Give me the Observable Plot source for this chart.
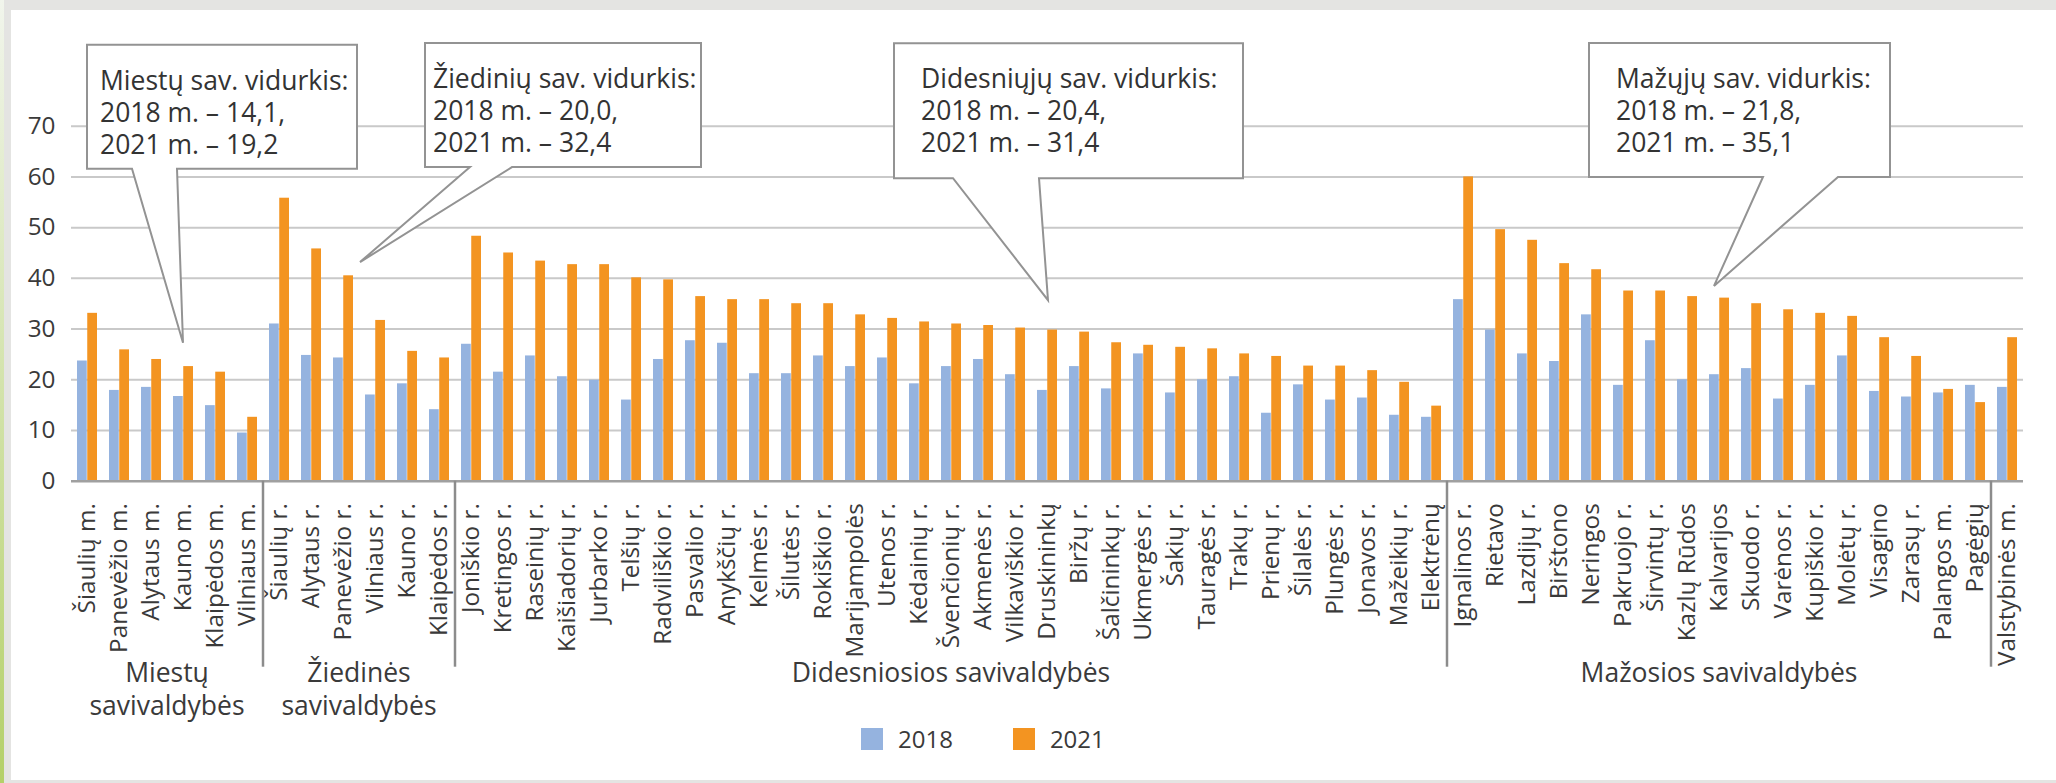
<!DOCTYPE html>
<html><head><meta charset="utf-8">
<script src="https://cdn.jsdelivr.net/npm/d3@7"></script>
<script src="https://cdn.jsdelivr.net/npm/@observablehq/plot@0.6"></script>
<style>
html,body{margin:0;padding:0;background:#fff;}
#frame{position:relative;width:2056px;height:783px;background:#e4e4e2;overflow:hidden;font-family:"Open Sans",sans-serif;color:#3a3a3a;}
#strip{position:absolute;left:0;top:0;width:4px;height:783px;background:linear-gradient(#f1f5ec,#b4d069);}
#panel{position:absolute;left:11px;top:10px;right:0;bottom:3px;background:#fff;}
#chart{position:absolute;left:0;top:0;width:2056px;}
#legend{display:flex;align-items:center;margin-left:861px;margin-top:5px;font-size:24px;height:24px;line-height:24px;}
.sw{width:22px;height:22px;margin-right:15px;}
.lt{margin-right:60px;}
</style></head>
<body><div id="frame"><div id="strip"></div><div id="panel"></div><div id="chart"></div></div>
<script>
// ---- categories ----
const cityNames = ["Šiaulių m.", "Panevėžio m.", "Alytaus m.", "Kauno m.", "Klaipėdos m.", "Vilniaus m."];
const ringNames = ["Šiaulių r.", "Alytaus r.", "Panevėžio r.", "Vilniaus r.", "Kauno r.", "Klaipėdos r."];
const largerNames = ["Joniškio r.", "Kretingos r.", "Raseinių r.", "Kaišiadorių r.", "Jurbarko r.", "Telšių r.", "Radviliškio r.", "Pasvalio r.", "Anykščių r.", "Kelmės r.", "Šilutės r.", "Rokiškio r.", "Marijampolės", "Utenos r.", "Kėdainių r.", "Švenčionių r.", "Akmenės r.", "Vilkaviškio r.", "Druskininkų", "Biržų r.", "Šalčininkų r.", "Ukmergės r.", "Šakių r.", "Tauragės r.", "Trakų r.", "Prienų r.", "Šilalės r.", "Plungės r.", "Jonavos r.", "Mažeikių r.", "Elektrėnų"];
const smallNames = ["Ignalinos r.", "Rietavo", "Lazdijų r.", "Birštono", "Neringos", "Pakruojo r.", "Širvintų r.", "Kazlų Rūdos", "Kalvarijos", "Skuodo r.", "Varėnos r.", "Kupiškio r.", "Molėtų r.", "Visagino", "Zarasų r.", "Palangos m.", "Pagėgių"];
const stateNames = ["Valstybinės m."];

// ---- group labels ----
const groupLabels = [["Miestų", "savivaldybės"], ["Žiedinės", "savivaldybės"], ["Didesniosios savivaldybės"], ["Mažosios savivaldybės"], []];

// ---- series values ----
const v2018 = [
  23.7, 17.9, 18.5, 16.7, 14.9, 9.5,
  31.0, 24.8, 24.3, 17.0, 19.2, 14.1,
  27.0, 21.5, 24.7, 20.6, 19.9, 16.0, 24.0, 27.7, 27.2, 21.2, 21.2, 24.7, 22.6, 24.3, 19.2, 22.6, 24.0, 21.0, 17.9, 22.6, 18.2, 25.1, 17.4, 20.0, 20.6, 13.4, 19.0, 16.0, 16.4, 13.0, 12.6,
  35.8, 29.8, 25.1, 23.6, 32.8, 18.9, 27.7, 20.0, 21.0, 22.2, 16.2, 18.9, 24.7, 17.7, 16.6, 17.4, 18.9,
  18.5
];
const v2021 = [
  33.1, 25.9, 24.0, 22.6, 21.5, 12.6,
  55.8, 45.8, 40.5, 31.7, 25.6, 24.3,
  48.3, 45.0, 43.4, 42.7, 42.7, 40.1, 39.7, 36.4, 35.8, 35.8, 35.0, 35.0, 32.8, 32.1, 31.4, 31.0, 30.7, 30.2, 29.8, 29.4, 27.3, 26.8, 26.4, 26.1, 25.1, 24.6, 22.7, 22.7, 21.8, 19.5, 14.8,
  60.0, 49.6, 47.5, 42.9, 41.7, 37.5, 37.5, 36.4, 36.1, 35.0, 33.8, 33.1, 32.5, 28.3, 24.6, 18.1, 15.5,
  28.3
];
const years = ["2018", "2021"];
const yTicks = [0, 10, 20, 30, 40, 50, 60, 70];

// ---- callout texts and anchors ----
const calloutLines = [
  ["Miestų sav. vidurkis:", "2018 m. – 14,1,", "2021 m. – 19,2"],
  ["Žiedinių sav. vidurkis:", "2018 m. – 20,0,", "2021 m. – 32,4"],
  ["Didesniųjų sav. vidurkis:", "2018 m. – 20,4,", "2021 m. – 31,4"],
  ["Mažųjų sav. vidurkis:", "2018 m. – 21,8,", "2021 m. – 35,1"]
];
const calloutAnchor = ["Kauno m.", "Panevėžio r.", "Druskininkų", "Kalvarijos"];
const calloutValue = [27.2, 43.1, 35.6, 38.4];

// ---- layout (pixels), kept apart from data ----
const calloutLayout = [
  {dx: 0,  left: -96,  top: -298, w: 270, h: 124, b1: 45,  b2: 90,  pad: 13},
  {dx: 17, left: 65,   top: -219, w: 276, h: 124, b1: 45,  b2: 87,  pad: 8},
  {dx: 1,  left: -154, top: -257, w: 349, h: 135, b1: 59,  b2: 145, pad: 27},
  {dx: -5, left: -125, top: -243, w: 301, h: 134, b1: 174, b2: 249, pad: 27}
];

const groups = [cityNames, ringNames, largerNames, smallNames, stateNames];
const names = groups.flat();
const rows = names.flatMap((n, i) => [
  {name: n, year: years[0], value: v2018[i]},
  {name: n, year: years[1], value: v2021[i]}
]);

const W = 2056, H = 722;
const plot = Plot.plot({
  width: W, height: H,
  marginLeft: 71, marginRight: 33, marginTop: 125.7, marginBottom: H - 480.7,
  style: {background: "transparent", fontFamily: '"Open Sans", sans-serif', fontSize: "24.3px", color: "#3a3a3a", overflow: "visible"},
  x: {domain: names, paddingInner: 0.36, paddingOuter: 0.18, tickRotate: -90, tickSize: 0, tickPadding: 22, label: null},
  y: {domain: [0, 70], ticks: yTicks, tickSize: 0, tickPadding: 16, label: null},
  color: {domain: years, range: ["#95b3df", "#f39421"]},
  marks: [
    Plot.ruleY(yTicks.filter(d => d > 0), {stroke: "#c9c9c9", strokeWidth: 2}),
    Plot.barY(rows.filter(d => d.year === years[0]), {x: "name", y: "value", fill: "year", insetRight: 10.24}),
    Plot.barY(rows.filter(d => d.year === years[1]), {x: "name", y: "value", fill: "year", insetLeft: 10.24}),
    Plot.ruleY([0], {stroke: "#a0a0a0", strokeWidth: 2.5})
  ]
});

const xs = plot.scale("x"), ys = plot.scale("y");
const bw = xs.bandwidth, step = xs.step, gap = (step - bw) / 2;
const svg = d3.select(plot);
const y0 = ys.apply(0);

// group separators and labels
const ann = svg.append("g").attr("fill", "#3a3a3a").attr("font-size", "26.5px");
groups.forEach((g, gi) => {
  const start = xs.apply(g[0]) - gap;
  const end = xs.apply(g[g.length - 1]) + bw + gap;
  if (gi > 0) {
    ann.append("line").attr("x1", start).attr("x2", start).attr("y1", y0).attr("y2", y0 + 186)
      .attr("stroke", "#8c8c8c").attr("stroke-width", 2.5);
  }
  groupLabels[gi].forEach((t, j) => {
    ann.append("text").attr("x", (start + end) / 2).attr("y", y0 + 201 + 33 * j)
      .attr("text-anchor", "middle").text(t);
  });
});

// callouts
const cg = svg.append("g").attr("text-anchor", "start").attr("font-size", "26.5px");
calloutLines.forEach((lines, i) => {
  const L = calloutLayout[i];
  const tx = xs.apply(calloutAnchor[i]) + bw / 2 + L.dx, ty = ys.apply(calloutValue[i]);
  const left = tx + L.left, top = ty + L.top, right = left + L.w, bottom = top + L.h;
  const d = `M${left},${top}H${right}V${bottom}H${left + L.b2}L${tx},${ty}L${left + L.b1},${bottom}H${left}Z`;
  cg.append("path").attr("d", d).attr("fill", "#fff").attr("stroke", "#939393").attr("stroke-width", 2).attr("stroke-linejoin", "miter");
  lines.forEach((t, j) => {
    cg.append("text").attr("x", left + L.pad).attr("y", top + 45 + 32 * j)
      .attr("text-anchor", "start").attr("fill", "#333").text(t);
  });
});

const chart = document.getElementById("chart");
chart.appendChild(plot);

// legend
const colors = ["#95b3df", "#f39421"];
const legend = d3.select(chart).append("div").attr("id", "legend");
years.forEach((y, i) => {
  legend.append("div").attr("class", "sw").style("background", colors[i]);
  legend.append("span").attr("class", "lt").text(y);
});
</script>
</body></html>
